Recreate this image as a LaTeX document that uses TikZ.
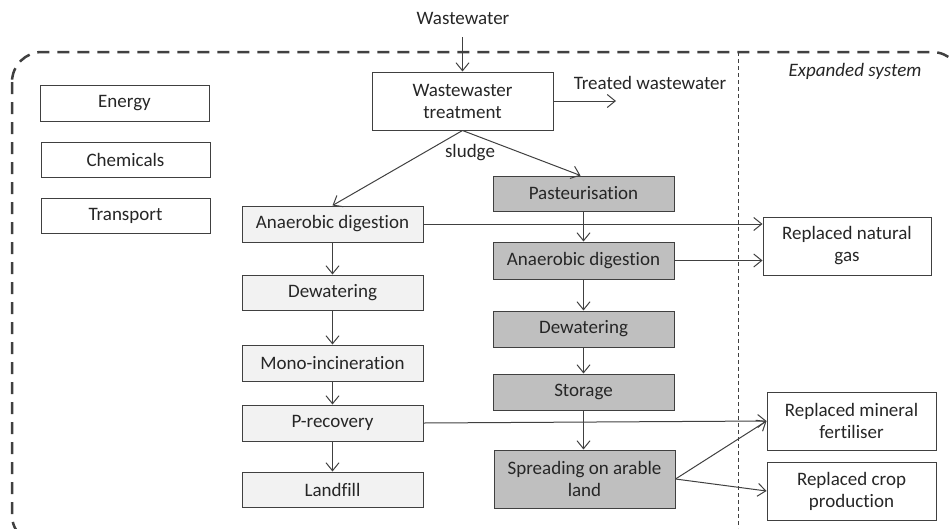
\documentclass[tikz,border=0pt]{standalone}
\usepackage{fontspec}
\setmainfont[Ligatures=CommonOff]{Carlito}
\usetikzlibrary{arrows.meta}
\definecolor{ln}{HTML}{404040}
\definecolor{txt}{HTML}{262626}
\definecolor{lightbox}{HTML}{F2F2F2}
\definecolor{darkbox}{HTML}{BFBFBF}
\tikzset{
  box/.style={draw=ln, line width=1pt, minimum width=#1, inner sep=0pt, align=center, font=\fontsize{19}{22}\selectfont, text=txt},
  box/.default=181pt,
  arr/.style={draw=ln, line width=1pt, -{Straight Barb[length=8pt,width=13pt,line width=1pt]}},
  lbl/.style={font=\fontsize{19}{22}\selectfont, text=txt, inner sep=0pt},
}
\begin{document}
\begin{tikzpicture}[x=1pt,y=-1pt]
\useasboundingbox (0,0) rectangle (950,528);
\begin{scope}
\clip (0,0) rectangle (950,528);
\draw[ln, line width=2.5pt, dash pattern=on 12pt off 8pt, rounded corners=30pt] (12,52) rectangle (962,545);
\draw[ln, line width=1pt, dash pattern=on 4pt off 3pt] (738,52) -- (738,528);
\end{scope}
% text nodes
\node[lbl] (ww) at (463,18) {Wastewater};
\node[lbl] (tw) at (650,83) {Treated wastewater};
\node[lbl] (sl) at (470,153) {sludge};
\node[lbl, font=\fontsize{19}{22}\selectfont\itshape] (es) at (855,71) {Expanded system};
% boxes
\node[box, minimum height=58pt, fill=white] (wwt) at (462.5,101) {Wastewaster\\treatment};
\node[box=169pt, minimum height=36pt] (en) at (124.5,103) {Energy};
\node[box=169pt, minimum height=35pt] (ch) at (125.5,159.5) {Chemicals};
\node[box=169pt, minimum height=35pt] (tr) at (125.5,215.5) {Transport};
% left column
\node[box, minimum height=36pt, fill=lightbox] (ad1) at (332.5,224) {Anaerobic digestion};
\node[box, minimum height=35pt, fill=lightbox] (dw1) at (332.5,292.5) {Dewatering};
\node[box, minimum height=36pt, fill=lightbox] (mi) at (332.5,363) {Mono-incineration};
\node[box, minimum height=36pt, fill=lightbox] (pr) at (332.5,423) {P-recovery};
\node[box, minimum height=35pt, fill=lightbox] (lf) at (332.5,489.5) {Landfill};
% right column
\node[box, minimum height=35pt, fill=darkbox] (pa) at (583.5,193.5) {Pasteurisation};
\node[box, minimum height=37pt, fill=darkbox] (ad2) at (583.5,260.5) {Anaerobic digestion};
\node[box, minimum height=36pt, fill=darkbox] (dw2) at (583.5,329) {Dewatering};
\node[box, minimum height=36pt, fill=darkbox] (st) at (583.5,392) {Storage};
\node[box, minimum height=58pt, fill=darkbox] (sp) at (584.5,479) {Spreading on arable\\land};
% expanded system
\node[box=168pt, minimum height=58pt] (rng) at (847,246) {Replaced natural\\gas};
\node[box=169pt, minimum height=58pt] (rmf) at (851.5,421) {Replaced mineral\\fertiliser};
\node[box=169pt, minimum height=58pt] (rcp) at (851.5,491) {Replaced crop\\production};
% connectors
\coordinate (wwin) at (462.5,37);
\coordinate (twend) at (616,101);
\draw[arr] (wwin) -- (wwt.north);
\draw[arr] (wwt.east) -- (twend);
\draw[arr] (wwt.south) -- (ad1.north);
\draw[arr] (wwt.south) -- ([xshift=-3pt]pa.north);
\draw[arr] (ad1.east) -- (rng.west |- ad1.east);
\draw[arr] (ad2.east) -- (rng.west |- ad2.east);
\draw[arr] (ad1) -- (dw1);
\draw[arr] (dw1) -- (mi);
\draw[arr] (mi) -- (pr);
\draw[arr] (pr) -- (lf);
\draw[arr] (pa) -- (ad2);
\draw[arr] (ad2) -- (dw2);
\draw[arr] (dw2) -- (st);
\draw[arr] (st.south) -- (st.south |- sp.north);
\draw[arr] (pr.east) -- (rmf.west);
\draw[arr] (sp.east) -- (rmf.west);
\draw[arr] (sp.east) -- (rcp.west);
\end{tikzpicture}
\end{document}
